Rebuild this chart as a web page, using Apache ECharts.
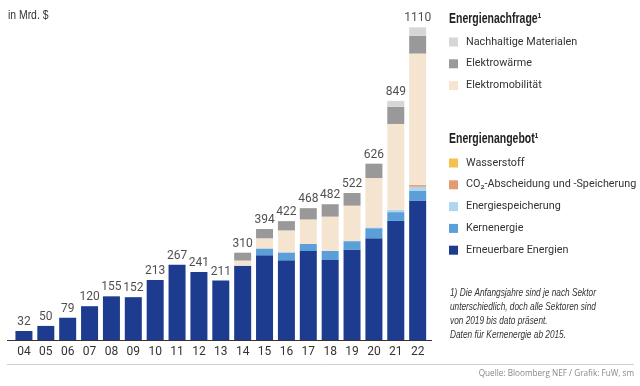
<!DOCTYPE html>
<html><head><meta charset="utf-8">
<script src="https://cdn.jsdelivr.net/npm/echarts@6/dist/echarts.min.js"></script>
<style>html,body{margin:0;padding:0;background:#fff}#c{width:640px;height:386px}</style>
</head><body><div id="c"></div>
<script>
const categories = ['04','05','06','07','08','09','10','11','12','13','14','15','16','17','18','19','20','21','22'];
const totals     = [32,50,79,120,155,152,213,267,241,211,310,394,422,468,482,522,626,849,1110];
const erneuerbare = [32,50,79,120,155,152,213,267,241,211,264,301,283,316,284,320,361,423,495];
const kernenergie = [0,0,0,0,0,0,0,0,0,0,0,24,28,25,32,31,36,31,34];
const speicherung = [0,0,0,0,0,0,0,0,0,0,0,0,0,0,0,0,3,8,15];
const co2         = [0,0,0,0,0,0,0,0,0,0,0,0,0,0,0,0,0,0,6];
const wasserstoff = [0,0,0,0,0,0,0,0,0,0,0,0,0,0,0,0,0,0,1];
const emobilitaet = [0,0,0,0,0,0,0,0,0,0,18,36,78,87,122,126,175,305,466];
const elektrowaerme = [0,0,0,0,0,0,0,0,0,0,28,33,33,40,44,45,51,61,63];
const materialien = [0,0,0,0,0,0,0,0,0,0,0,0,0,0,0,0,0,21,30];

const FONT = "Roboto,'Liberation Sans',sans-serif";
const GFONT = "'Liberation Sans',sans-serif";
const chart = echarts.init(document.getElementById('c'), null, {renderer:'canvas'});

function bar(name, data, color){
  return {name, type:'bar', stack:'s', data, barWidth:17, itemStyle:{color}, emphasis:{disabled:true}};
}
const series = [
  bar('Erneuerbare Energien', erneuerbare, '#1d3c8f'),
  bar('Kernenergie', kernenergie, '#5b9fd9'),
  bar('Energiespeicherung', speicherung, '#aed6f1'),
  bar('CO₂-Abscheidung und -Speicherung', co2, '#e59b72'),
  bar('Wasserstoff', wasserstoff, '#f2c14e'),
  bar('Elektromobilität', emobilitaet, '#f5e5d0'),
  bar('Elektrowärme', elektrowaerme, '#999999'),
  bar('Nachhaltige Materialen', materialien, '#d6d6d6'),
  {name:'Total', type:'scatter', data: totals, symbolSize:0, silent:true,
   label:{show:true, position:'top', distance:3, color:'#222', fontFamily:FONT, fontSize:12}}
];

const legendCommon = {
  orient:'vertical', left:449, padding:0, icon:'rect', itemWidth:9, itemHeight:9, itemGap:9.8,
  selectedMode:false,
  textStyle:{fontFamily:FONT, fontSize:10.8, color:'#333', lineHeight:12, padding:[0,0,0,3]}
};

chart.setOption({
  animation:false,
  backgroundColor:'#fff',
  grid:{left:13, top:2, width:415.6, height:338, containLabel:false},
  xAxis:{type:'category', data:categories, axisLine:{show:false}, axisTick:{show:false},
    axisLabel:{fontFamily:FONT, fontSize:12, color:'#333', margin:6}},
  yAxis:{type:'value', min:0, max:1200, show:false, splitLine:{show:false}},
  legend:[
    Object.assign({}, legendCommon, {top:36, data:['Nachhaltige Materialen','Elektrowärme','Elektromobilität']}),
    Object.assign({}, legendCommon, {top:157, data:['Wasserstoff','CO₂-Abscheidung und -Speicherung','Energiespeicherung','Kernenergie','Erneuerbare Energien']})
  ],
  series,
  graphic:[
    {type:'line', shape:{x1:7, y1:340.5, x2:432, y2:340.5}, style:{stroke:'#333', lineWidth:1}},
    {type:'line', shape:{x1:7, y1:364.5, x2:634, y2:364.5}, style:{stroke:'#d0d0d0', lineWidth:1}},
    {type:'text', x:8, y:9, scaleX:0.8, style:{text:'in Mrd. $', font:"13px "+GFONT, fill:'#333'}},
    {type:'text', x:449, y:12, scaleX:0.75, style:{text:'Energienachfrage¹', font:"bold 14px "+GFONT, fill:'#222'}},
    {type:'text', x:449, y:132, scaleX:0.75, style:{text:'Energienangebot¹', font:"bold 14px "+GFONT, fill:'#222'}},
    {type:'text', x:450, y:286, scaleX:0.72, style:{text:'1) Die Anfangsjahre sind je nach Sektor\nunterschiedlich, doch alle Sektoren sind\nvon 2019 bis dato präsent.\nDaten für Kernenergie ab 2015.', font:"italic 11.5px "+GFONT, lineHeight:14, fill:'#333'}},
    {type:'text', right:6, top:370, style:{text:'Quelle: Bloomberg NEF / Grafik: FuW, sm', font:"8.2px 'Open Sans',sans-serif", fill:'#888'}}
  ]
});
</script></body></html>
